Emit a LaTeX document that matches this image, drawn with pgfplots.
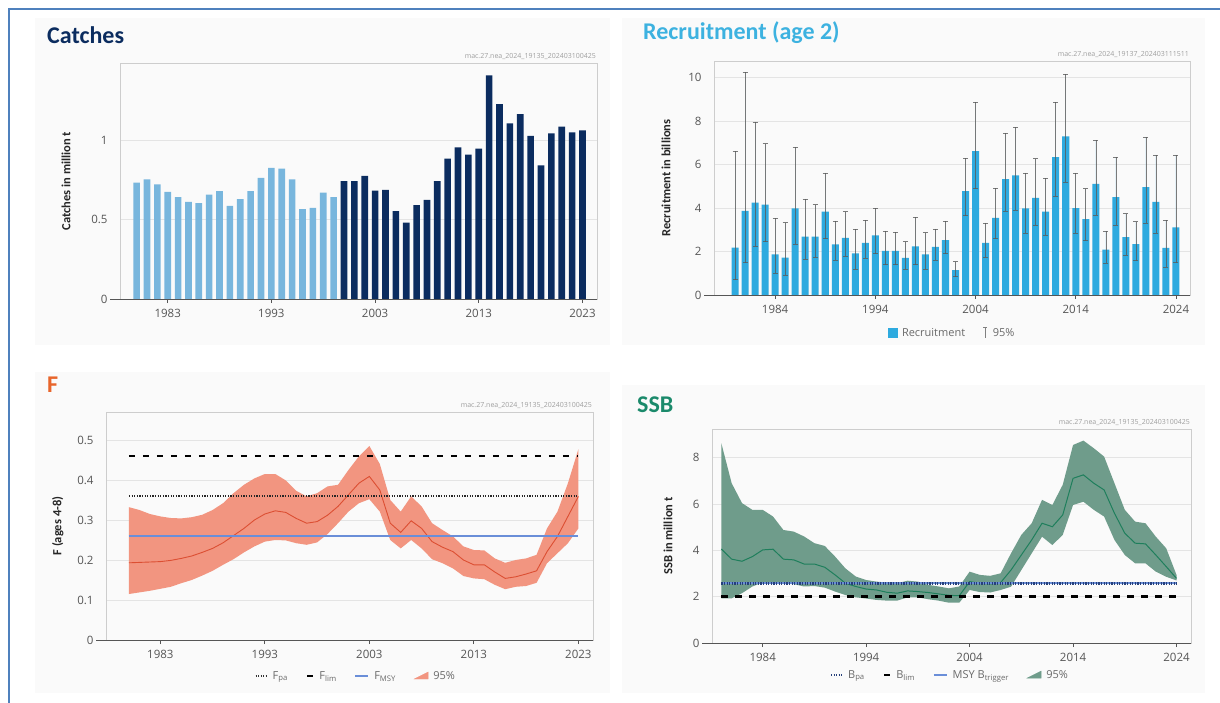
\documentclass[border=0pt]{standalone}
\usepackage{fontspec}
\setmainfont{Carlito}
\newfontfamily\tickfont{Open Sans}
\usepackage{pgfplots}
\pgfplotsset{compat=1.18}
\usepackage{pgfplotstable}

\definecolor{frameblue}{HTML}{4F81BD}
\definecolor{catlight}{HTML}{78B6DD}
\definecolor{catdark}{HTML}{0B2C5F}
\definecolor{rectitle}{HTML}{3DB2E0}
\definecolor{recbar}{HTML}{2EAADF}
\definecolor{errgray}{HTML}{5A5A5A}
\definecolor{ftitle}{HTML}{E8652B}
\definecolor{fband}{HTML}{F29580}
\definecolor{fline}{HTML}{DC4F33}
\definecolor{msyblue}{HTML}{6A8ED8}
\definecolor{ssbtitle}{HTML}{1B8A6B}
\definecolor{ssbband}{HTML}{6F9C8B}
\definecolor{ssbline}{HTML}{1F7F5C}
\definecolor{tickgray}{HTML}{555555}
\definecolor{legendgray}{HTML}{6A6A6A}
\definecolor{gridgray}{HTML}{E4E4E4}
\definecolor{boxgray}{HTML}{CDCDCD}
\definecolor{bpanavy}{HTML}{26407A}
\definecolor{panelbg}{HTML}{FAFAFA}

\pgfplotstableread{
year val
1980 0.732
1981 0.753
1982 0.720
1983 0.674
1984 0.640
1985 0.611
1986 0.603
1987 0.657
1988 0.678
1989 0.586
1990 0.628
1991 0.678
1992 0.762
1993 0.824
1994 0.820
1995 0.753
1996 0.565
1997 0.573
1998 0.669
1999 0.640
}\catchA

\pgfplotstableread{
year val
2000 0.741
2001 0.741
2002 0.774
2003 0.682
2004 0.686
2005 0.552
2006 0.481
2007 0.590
2008 0.623
2009 0.741
2010 0.883
2011 0.954
2012 0.908
2013 0.946
2014 1.406
2015 1.226
2016 1.105
2017 1.163
2018 1.025
2019 0.841
2020 1.042
2021 1.084
2022 1.048
2023 1.061
}\catchB

\pgfplotstableread{
year rec lo hi
1980 2.18 0.70 6.62
1981 3.87 1.49 10.25
1982 4.25 2.25 7.97
1983 4.16 2.45 6.97
1984 1.87 1.00 3.53
1985 1.72 0.90 3.33
1986 3.99 2.35 6.82
1987 2.69 1.65 4.42
1988 2.69 1.75 4.16
1989 3.84 2.60 5.62
1990 2.33 1.60 3.41
1991 2.63 1.80 3.84
1992 1.92 1.20 3.03
1993 2.40 1.70 3.44
1994 2.75 1.90 3.99
1995 2.03 1.40 2.95
1996 2.03 1.40 2.89
1997 1.71 1.20 2.46
1998 2.24 1.40 3.58
1999 1.87 1.20 2.87
2000 2.21 1.60 3.04
2001 2.53 1.90 3.39
2002 1.14 0.85 1.54
2003 4.78 3.65 6.30
2004 6.62 4.90 8.88
2005 2.40 1.75 3.32
2006 3.55 2.60 4.92
2007 5.33 3.85 7.45
2008 5.50 3.90 7.73
2009 3.99 2.85 5.62
2010 4.47 3.20 6.28
2011 3.84 2.75 5.38
2012 6.34 4.55 8.88
2013 7.30 5.20 10.15
2014 4.00 2.85 5.60
2015 3.49 2.50 4.90
2016 5.12 3.66 7.12
2017 2.09 1.46 2.94
2018 4.50 3.20 6.34
2019 2.66 1.82 3.75
2020 2.34 1.58 3.38
2021 4.97 3.32 7.28
2022 4.29 2.85 6.45
2023 2.17 1.28 3.45
2024 3.11 1.49 6.45
}\rectab

\pgfplotstableread{
year med
1980 0.193
1981 0.194
1982 0.195
1983 0.196
1984 0.199
1985 0.204
1986 0.210
1987 0.219
1988 0.229
1989 0.243
1990 0.261
1991 0.279
1992 0.300
1993 0.315
1994 0.323
1995 0.319
1996 0.304
1997 0.292
1998 0.296
1999 0.312
2000 0.334
2001 0.363
2002 0.392
2003 0.409
2004 0.375
2005 0.292
2006 0.269
2007 0.298
2008 0.279
2009 0.246
2010 0.232
2011 0.221
2012 0.200
2013 0.188
2014 0.188
2015 0.170
2016 0.154
2017 0.158
2018 0.165
2019 0.173
2020 0.221
2021 0.259
2022 0.309
2023 0.359
}\ftab

\pgfplotstableread{
year med
1980 4.06
1981 3.62
1982 3.53
1983 3.73
1984 4.02
1985 4.05
1986 3.62
1987 3.59
1988 3.41
1989 3.41
1990 3.27
1991 2.94
1992 2.58
1993 2.44
1994 2.33
1995 2.29
1996 2.19
1997 2.15
1998 2.25
1999 2.22
2000 2.18
2001 2.12
2002 2.06
2003 2.04
2004 2.65
2005 2.58
2006 2.55
2007 2.61
2008 3.15
2009 3.80
2010 4.45
2011 5.17
2012 5.02
2013 5.53
2014 7.11
2015 7.26
2016 6.90
2017 6.61
2018 5.60
2019 4.74
2020 4.31
2021 4.28
2022 3.80
2023 3.30
2024 2.79
}\ssbtab

\tikzset{wm/.style={anchor=south east, font=\fontsize{7}{8}\selectfont\tickfont, text=gray!75, inner sep=1pt, yshift=2pt}}

\pgfplotsset{
  icesaxis/.style={
    scale only axis,
    clip=false,
    axis line style={boxgray, line width=0.6pt},
    ymajorgrids,
    grid style={gridgray, line width=0.6pt},
    tick label style={font=\fontsize{11.5}{13}\selectfont\tickfont, text=tickgray},
    /pgf/number format/assume math mode=true,
    /pgf/number format/1000 sep={},
    xtick pos=bottom, ytick pos=left,
    tick align=outside,
    major tick length=4pt,
    xtick style={tickgray, line width=0.8pt},
    ytick style={draw=none},
    yticklabel style={xshift=-5pt},
    xticklabel style={yshift=-3pt},
    ylabel style={font=\bfseries\fontsize{12.5}{14}\selectfont, text=black!85, anchor=center},
    legend style={draw=none, fill=none, font=\fontsize{11}{13}\selectfont\tickfont, text=legendgray,
      legend columns=-1, anchor=center,
      /tikz/every odd column/.append style={column sep=3pt},
      /tikz/every even column/.append style={column sep=16pt}},
    legend cell align=left,
    after end axis/.code={\draw[tickgray, line width=1pt] (rel axis cs:-0.02,0) -- (rel axis cs:1,0);},
  },
}

\begin{document}
\begin{tikzpicture}
\path[use as bounding box] (0pt,0pt) rectangle (1220pt,-703pt);
\fill[white] (0pt,0pt) rectangle (1220pt,-703pt);
% faint panel backgrounds
\fill[panelbg] (35pt,-18pt) rectangle (610pt,-345pt);
\fill[panelbg] (622pt,-18pt) rectangle (1205pt,-345pt);
\fill[panelbg] (35pt,-372pt) rectangle (610pt,-693pt);
\fill[panelbg] (622pt,-385pt) rectangle (1205pt,-693pt);
\draw[frameblue, line width=2.5pt] (9pt,-703pt) -- (9pt,-9pt) -- (1220pt,-9pt);

% titles
\node[anchor=west, font=\bfseries\fontsize{24}{28}\selectfont, text=catdark, inner sep=0pt] at (47pt,-35pt) {Catches};
\node[anchor=west, font=\bfseries\fontsize{24}{28}\selectfont, text=rectitle, inner sep=0pt] at (643pt,-33pt) {Recruitment (age 2)};
\node[anchor=west, font=\bfseries\fontsize{24}{28}\selectfont, text=ftitle, inner sep=0pt] at (47pt,-385pt) {F};
\node[anchor=west, font=\bfseries\fontsize{24}{28}\selectfont, text=ssbtitle, inner sep=0pt] at (637pt,-405pt) {SSB};

% ---------------- Catches
\begin{axis}[icesaxis, at={(120pt,-299pt)}, anchor=south west,
  width=477pt, height=236pt,
  xmin=1978.4, xmax=2024.4, ymin=0, ymax=1.484,
  xtick={1983,1993,2003,2013,2023},
  ytick={0,0.5,1}, yticklabels={0,0.5,1},
  ylabel={Catches in million t},
  ylabel style={at={(axis description cs:-0.113,0.5)}},
]
\addplot[ybar, bar width=0.64, bar shift=0pt, fill=catlight, draw=none] table[x=year,y=val] \catchA;
\addplot[ybar, bar width=0.64, bar shift=0pt, fill=catdark, draw=none] table[x=year,y=val] \catchB;
\node[wm] at (rel axis cs:1,1) {mac.27.nea\_2024\_19135\_202403100425};
\end{axis}

% ---------------- Recruitment
\begin{axis}[icesaxis, at={(714pt,-295pt)}, anchor=south west,
  width=476pt, height=234pt,
  xmin=1977.9, xmax=2025.4, ymin=0, ymax=10.77,
  xtick={1984,1994,2004,2014,2024},
  ytick={0,2,4,6,8,10},
  ylabel={Recruitment in billions},
  ylabel style={at={(axis description cs:-0.101,0.5)}},
  legend style={at={(axis description cs:0.5,-0.162)}},
]
\addlegendimage{legend image code/.code={\fill[recbar] (0pt,-4.5pt) rectangle (9pt,4.5pt);}}
\addlegendentry{Recruitment}
\addlegendimage{legend image code/.code={\draw[gray, line width=0.6pt] (6pt,-5pt) -- (6pt,6pt); \draw[gray, line width=0.6pt] (4pt,6pt) -- (8pt,6pt);}}
\addlegendentry{95\%}
\addplot[ybar, bar width=0.7, bar shift=0pt, fill=recbar, draw=none, forget plot,
  error bars/.cd, y dir=both, y explicit,
  error bar style={draw=errgray, line width=0.6pt, opacity=0.8},
  error mark options={draw=errgray, line width=0.6pt, mark size=2.5pt, rotate=90, opacity=0.8}]
  table[x=year, y=rec, y error plus expr=\thisrow{hi}-\thisrow{rec}, y error minus expr=\thisrow{rec}-\thisrow{lo}] \rectab;
\node[wm] at (rel axis cs:1,1) {mac.27.nea\_2024\_19137\_202403111511};
\end{axis}

% ---------------- F
\begin{axis}[icesaxis, at={(106pt,-640pt)}, anchor=south west,
  width=487pt, height=228pt,
  xmin=1977.8, xmax=2024.4, ymin=0, ymax=0.57,
  xtick={1983,1993,2003,2013,2023},
  ytick={0,0.1,0.2,0.3,0.4,0.5}, yticklabels={0,0.1,0.2,0.3,0.4,0.5},
  ylabel={F (ages 4-8)},
  ylabel style={at={(axis description cs:-0.099,0.5)}},
  legend style={at={(axis description cs:0.513,-0.158)}},
]
\addlegendimage{legend image code/.code={\draw[black!80, line width=2pt, dash pattern=on 1.2pt off 1.3pt] (0pt,0pt) -- (11pt,0pt);}}
\addlegendentry{F\textsubscript{pa}}
\addlegendimage{legend image code/.code={\draw[black, line width=2.6pt] (4pt,0pt) -- (10pt,0pt);}}
\addlegendentry{F\textsubscript{lim}}
\addlegendimage{legend image code/.code={\draw[msyblue, line width=1.6pt] (0pt,0pt) -- (13pt,0pt);}}
\addlegendentry{F\textsubscript{MSY}}
\addlegendimage{legend image code/.code={\fill[fband] (0pt,-3pt) -- (14pt,-3pt) -- (14pt,4pt) -- cycle;}}
\addlegendentry{95\%}
\addplot[fill=fband, draw=none, forget plot] coordinates {
(1980,0.332)(1981,0.325)(1982,0.315)(1983,0.309)(1984,0.305)(1985,0.304)(1986,0.307)(1987,0.313)(1988,0.325)(1989,0.342)(1990,0.367)(1991,0.388)(1992,0.404)(1993,0.415)(1994,0.415)(1995,0.399)(1996,0.373)(1997,0.359)(1998,0.367)(1999,0.384)(2000,0.388)(2001,0.425)(2002,0.459)(2003,0.485)(2004,0.440)(2005,0.350)(2006,0.321)(2007,0.359)(2008,0.334)(2009,0.292)(2010,0.275)(2011,0.259)(2012,0.234)(2013,0.225)(2014,0.224)(2015,0.204)(2016,0.193)(2017,0.200)(2018,0.204)(2019,0.213)(2020,0.279)(2021,0.321)(2022,0.392)(2023,0.477)
(2023,0.279)(2022,0.242)(2021,0.217)(2020,0.192)(2019,0.143)(2018,0.135)(2017,0.133)(2016,0.127)(2015,0.138)(2014,0.152)(2013,0.154)(2012,0.160)(2011,0.179)(2010,0.192)(2009,0.202)(2008,0.229)(2007,0.250)(2006,0.229)(2005,0.250)(2004,0.321)(2003,0.352)(2002,0.342)(2001,0.321)(2000,0.292)(1999,0.265)(1998,0.244)(1997,0.238)(1996,0.242)(1995,0.249)(1994,0.250)(1993,0.246)(1992,0.234)(1991,0.219)(1990,0.202)(1989,0.188)(1988,0.173)(1987,0.161)(1986,0.150)(1985,0.142)(1984,0.133)(1983,0.128)(1982,0.123)(1981,0.119)(1980,0.115)
} -- cycle;
\addplot[fline, line width=0.9pt, forget plot] table[x=year,y=med] \ftab;
\addplot[msyblue, line width=2.4pt, forget plot] coordinates {(1980,0.26) (2023,0.26)};
\addplot[black!85, line width=2.6pt, dash pattern=on 1.2pt off 1.4pt, forget plot] coordinates {(1980,0.36) (2023,0.36)};
\addplot[black, line width=2.6pt, dash pattern=on 6.5pt off 7.5pt, forget plot] coordinates {(1980,0.46) (2023,0.46)};
\node[wm] at (rel axis cs:1,1) {mac.27.nea\_2024\_19135\_202403100425};
\end{axis}

% ---------------- SSB
\begin{axis}[icesaxis, at={(712pt,-643pt)}, anchor=south west,
  width=479pt, height=214pt,
  xmin=1979.1, xmax=2025.4, ymin=0, ymax=9.24,
  xtick={1984,1994,2004,2014,2024},
  ytick={0,2,4,6,8},
  ylabel={SSB in million t},
  ylabel style={at={(axis description cs:-0.092,0.5)}},
  legend style={at={(axis description cs:0.497,-0.15)}},
]
\addlegendimage{legend image code/.code={\draw[bpanavy, line width=2pt, dash pattern=on 1.2pt off 1.3pt] (0pt,0pt) -- (11pt,0pt);}}
\addlegendentry{B\textsubscript{pa}}
\addlegendimage{legend image code/.code={\draw[black, line width=2.6pt] (4pt,0pt) -- (10pt,0pt);}}
\addlegendentry{B\textsubscript{lim}}
\addlegendimage{legend image code/.code={\draw[msyblue, line width=1.6pt] (0pt,0pt) -- (13pt,0pt);}}
\addlegendentry{MSY B\textsubscript{trigger}}
\addlegendimage{legend image code/.code={\fill[ssbband] (0pt,-3pt) -- (14pt,-3pt) -- (14pt,4pt) -- cycle;}}
\addlegendentry{95\%}
\addplot[fill=ssbband, draw=none, forget plot] coordinates {
(1980,8.63)(1981,6.90)(1982,6.04)(1983,5.75)(1984,5.75)(1985,5.46)(1986,4.88)(1987,4.81)(1988,4.60)(1989,4.31)(1990,4.19)(1991,3.73)(1992,3.22)(1993,2.87)(1994,2.72)(1995,2.65)(1996,2.61)(1997,2.58)(1998,2.69)(1999,2.65)(2000,2.51)(2001,2.44)(2002,2.36)(2003,2.44)(2004,3.08)(2005,2.94)(2006,2.90)(2007,3.01)(2008,3.87)(2009,4.67)(2010,5.17)(2011,6.18)(2012,5.96)(2013,6.83)(2014,8.55)(2015,8.74)(2016,8.41)(2017,8.05)(2018,6.90)(2019,5.75)(2020,5.24)(2021,5.17)(2022,4.59)(2023,4.09)(2024,2.94)
(2024,2.70)(2023,2.86)(2022,3.08)(2021,3.44)(2020,3.44)(2019,3.80)(2018,4.45)(2017,5.46)(2016,5.75)(2015,6.10)(2014,5.96)(2013,4.67)(2012,4.23)(2011,4.59)(2010,3.87)(2009,3.15)(2008,2.43)(2007,2.29)(2006,2.18)(2005,2.20)(2004,2.29)(2003,1.74)(2002,1.74)(2001,1.83)(2000,1.89)(1999,1.97)(1998,1.97)(1997,1.83)(1996,1.83)(1995,1.86)(1994,1.92)(1993,1.97)(1992,2.07)(1991,2.22)(1990,2.39)(1989,2.46)(1988,2.44)(1987,2.54)(1986,2.58)(1985,2.55)(1984,2.61)(1983,2.44)(1982,2.15)(1981,1.93)(1980,1.93)
} -- cycle;
\addplot[ssbline, line width=1pt, forget plot] table[x=year,y=med] \ssbtab;
\addplot[msyblue, line width=2.4pt, forget plot] coordinates {(1980,2.58) (2024,2.58)};
\addplot[bpanavy, line width=2.6pt, dash pattern=on 1.2pt off 1.4pt, forget plot] coordinates {(1980,2.58) (2024,2.58)};
\addplot[black, line width=2.6pt, dash pattern=on 6.5pt off 7.5pt, forget plot] coordinates {(1980,2.0) (2024,2.0)};
\node[wm] at (rel axis cs:1,1) {mac.27.nea\_2024\_19135\_202403100425};
\end{axis}
\end{tikzpicture}
\end{document}
